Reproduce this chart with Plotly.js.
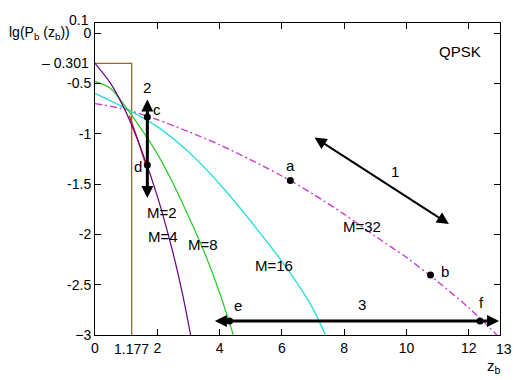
<!DOCTYPE html>
<html>
<head>
<meta charset="utf-8">
<script src="https://cdn.plot.ly/plotly-3.0.1.min.js"></script>
<style>html,body{margin:0;padding:0;background:#fff;}#chart{width:521px;height:380px;}</style>
</head>
<body>
<div id="chart"></div>
<script>
// curve data (z_b, lg Pb)
var m2X  = [0, 0.5, 1.0, 1.5, 2.0, 2.5, 2.8, 3.07];
var m2Y  = [-0.301, -0.50, -0.79, -1.17, -1.62, -2.18, -2.58, -3.0];
var m4X  = [0, 0.5, 1.0, 1.5, 2.0, 2.5, 3.0, 3.5, 4.0, 4.44];
var m4Y  = [-0.48, -0.55, -0.74, -0.96, -1.20, -1.49, -1.82, -2.17, -2.58, -3.0];
var m8X  = [0, 1, 2, 3, 4, 5, 6, 6.5, 7, 7.4];
var m8Y  = [-0.60, -0.75, -0.93, -1.18, -1.50, -1.87, -2.27, -2.49, -2.74, -3.0];
var m32X = [0, 1, 2, 3, 4, 5, 6, 7, 8, 9, 10, 11, 12, 12.9];
var m32Y = [-0.70, -0.76, -0.86, -0.98, -1.11, -1.26, -1.42, -1.60, -1.80, -2.02, -2.23, -2.47, -2.73, -3.0];
var redX = [1.10, 1.35, 1.62];
var redY = [-0.82, -1.04, -1.30];
var limitX = [0, 1.177, 1.177];
var limitY = [-0.301, -0.301, -3];
// marked points
var ptNames = ['a', 'b', 'c', 'd', 'e', 'f'];
var ptX = [6.27, 10.77, 1.68, 1.68, 4.32, 12.36];
var ptY = [-1.466, -2.404, -0.835, -1.31, -2.86, -2.86];
// point label positions
var ptLabX = [6.27, 11.25, 1.98, 1.38, 4.58, 12.40];
var ptLabY = [-1.32, -2.37, -0.76, -1.33, -2.71, -2.68];
// curve labels
var curveLabels = ['M=2', 'M=4', 'M=8', 'M=16', 'M=32'];
var curveLabX = [2.14, 2.19, 3.48, 5.75, 8.57];
var curveLabY = [-1.78, -2.02, -2.10, -2.31, -1.92];
// arrows [x0, y0, x1, y1]
var arrowNames = ['1', '2', '3'];
var arrowX0 = [7.0, 1.68, 3.80];
var arrowY0 = [-1.028, -0.646, -2.86];
var arrowX1 = [11.36, 1.68, 12.97];
var arrowY1 = [-1.897, -1.64, -2.86];
var arrowW  = [2, 3, 3];
var arrowS  = [1.2, 0.8, 0.8];
var arrowLabX = [9.64, 1.68, 8.57];
var arrowLabY = [-1.376, -0.545, -2.70];
// ticks
var xTicks = [0, 2, 4, 6, 8, 10, 12];
var yTicks = [0, -0.5, -1, -1.5, -2, -2.5, -3];
var yTickText = ['0', '-0.5', '-1', '-1.5', '-2', '-2.5', '\u22123'];

var F = 'Arial, "Liberation Sans", sans-serif';
function ln(x, y, c, w, dash) {
  return {x: x, y: y, mode: 'lines', type: 'scatter', hoverinfo: 'skip',
    line: {color: c, width: w, shape: 'spline', smoothing: 0.8, dash: dash || 'solid'}};
}
var traces = [
  {x: limitX, y: limitY, mode: 'lines', type: 'scatter', line: {color: '#996633', width: 1.3}},
  ln(redX, redY, '#e02020', 1.3),
  ln(m32X, m32Y, '#cc33cc', 1.3, '7px,3px,2px,3px'),
  ln(m8X, m8Y, '#33dddd', 1.4),
  ln(m4X, m4Y, '#22cc22', 1.2),
  ln(m2X, m2Y, '#660080', 1.2),
  {x: ptX, y: ptY, mode: 'markers', type: 'scatter', marker: {color: '#000', size: 7}}
];

var ann = [];
function txt(x, y, t, size, xref, yref, xanchor) {
  ann.push({x: x, y: y, xref: xref || 'x', yref: yref || 'y', text: t, showarrow: false,
    font: {family: F, size: size, color: '#000'}, xanchor: xanchor || 'center', yanchor: 'middle'});
}
for (var i = 0; i < arrowNames.length; i++) {
  ann.push({x: arrowX1[i], y: arrowY1[i], ax: arrowX0[i], ay: arrowY0[i], axref: 'x', ayref: 'y',
    xref: 'x', yref: 'y', text: '', showarrow: true, arrowside: 'end+start', arrowhead: 2, startarrowhead: 2,
    arrowsize: arrowS[i], startarrowsize: arrowS[i], arrowwidth: arrowW[i], arrowcolor: '#000', standoff: 0, startstandoff: 0});
  txt(arrowLabX[i], arrowLabY[i], arrowNames[i], 15);
}
for (var j = 0; j < ptNames.length; j++) txt(ptLabX[j], ptLabY[j], ptNames[j], 15);
for (var k = 0; k < curveLabels.length; k++) txt(curveLabX[k], curveLabY[k], curveLabels[k], 15);
txt(11.73, -0.18, 'QPSK', 15);
txt(1.177, -0.0437, '1.177', 14, 'x', 'paper');
txt(1.0099, -0.0449, '13', 14, 'paper', 'paper');
txt(-0.0106, 1.011, '0.1', 14, 'paper', 'paper', 'right');
txt(-0.0106, 0.871, '\u2013 0.301', 14, 'paper', 'paper', 'right');
ann.push({xref: 'paper', yref: 'paper', x: -0.057, y: 0.967, xanchor: 'right', yanchor: 'middle',
  text: 'lg(P<sub>b</sub> (z<sub>b</sub>))', showarrow: false, font: {family: F, size: 14, color: '#000'}});
ann.push({xref: 'paper', yref: 'paper', x: 0.985, y: -0.1, xanchor: 'center', yanchor: 'middle',
  text: 'z<sub>b</sub>', showarrow: false, font: {family: F, size: 15, color: '#000'}});

var layout = {
  width: 521, height: 380,
  margin: {l: 95, r: 21, t: 23, b: 45},
  paper_bgcolor: '#fff', plot_bgcolor: '#fff',
  showlegend: false,
  font: {family: F, size: 14, color: '#000'},
  xaxis: {range: [0, 13], tickvals: xTicks, ticks: 'inside', ticklen: 6, tickcolor: '#000',
    showline: true, linecolor: '#000', linewidth: 1, mirror: 'ticks', showgrid: false, zeroline: false,
    tickfont: {family: F, size: 14, color: '#000'}},
  yaxis: {range: [-3, 0.1], tickvals: yTicks, ticktext: yTickText, ticks: 'inside', ticklen: 6, tickcolor: '#000',
    showline: true, linecolor: '#000', linewidth: 1, mirror: 'ticks', showgrid: false, zeroline: false,
    tickfont: {family: F, size: 14, color: '#000'}},
  annotations: ann
};
Plotly.newPlot('chart', traces, layout, {staticPlot: true, displayModeBar: false});
</script>
</body>
</html>
